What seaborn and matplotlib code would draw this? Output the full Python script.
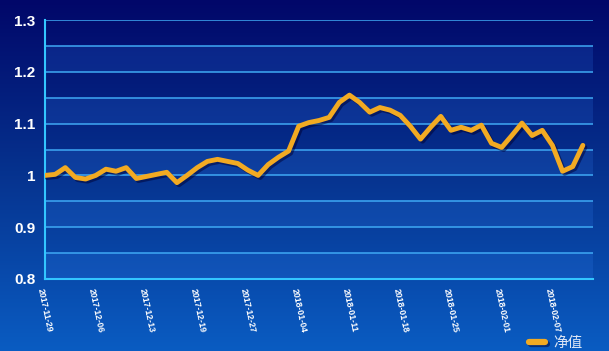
import numpy as np
import pandas as pd
import matplotlib
matplotlib.use("Agg")
import matplotlib.pyplot as plt
import matplotlib.patheffects as pe
import seaborn as sns
from matplotlib.colors import LinearSegmentedColormap

# net value series, one point per trading day
nav = [1.000, 1.002, 1.015, 0.996, 0.993, 1.000, 1.012, 1.008, 1.015, 0.994,
       0.998, 1.002, 1.006, 0.986, 1.000, 1.015, 1.027, 1.031, 1.027, 1.023,
       1.010, 1.000, 1.021, 1.035, 1.047, 1.095, 1.102, 1.106, 1.112, 1.141,
       1.155, 1.141, 1.122, 1.131, 1.126, 1.116, 1.095, 1.070, 1.093, 1.114,
       1.087, 1.093, 1.087, 1.097, 1.062, 1.054, 1.077, 1.101, 1.077, 1.087,
       1.058, 1.008, 1.017, 1.058]
tick_dates = ["2017-11-29", "2017-12-06", "2017-12-13", "2017-12-19", "2017-12-27",
              "2018-01-04", "2018-01-11", "2018-01-18", "2018-01-25", "2018-02-01",
              "2018-02-07"]
tick_step = 5
y_ticks = [0.8, 0.9, 1.0, 1.1, 1.2, 1.3]
y_labels = ["0.8", "0.9", "1", "1.1", "1.2", "1.3"]
series_name = "净值"

df = pd.DataFrame({"day": range(len(nav)), series_name: nav})

sns.set_style("white")
plt.rcParams["font.family"] = ["Liberation Sans", "Noto Sans CJK SC", "DejaVu Sans"]

fig = plt.figure(figsize=(6.09, 3.51), dpi=100)

# background gradient over the whole figure
bg = fig.add_axes([0, 0, 1, 1], zorder=0)
grad = LinearSegmentedColormap.from_list("bg", ["#010769", "#06338f", "#0a5cc2"])
bg.imshow(np.linspace(0, 1, 256).reshape(-1, 1), aspect="auto", cmap=grad,
          extent=[0, 1, 0, 1], origin="upper")
bg.set_axis_off()

ax = fig.add_axes([45 / 609, 1 - 279 / 351, 548 / 609, 259 / 351], zorder=1)
ax.patch.set_alpha(0)

# alternating bands between the 0.05 grid lines
for lo in np.arange(0.8, 1.3, 0.1):
    ax.axhspan(lo, lo + 0.05, color="#3a8cff", alpha=0.16, lw=0, zorder=0)
for g in np.arange(0.8, 1.31, 0.05):
    ax.axhline(g, color="#3fa9f5", lw=1.1, zorder=1)

sns.lineplot(data=df, x="day", y=series_name, ax=ax, color="#f2aa22", lw=3.5,
             label=series_name, zorder=3,
             path_effects=[pe.SimpleLineShadow(offset=(1.5, -1.5), shadow_color="#000033", alpha=0.5),
                           pe.Normal()])

ax.set_xlim(0, 54)
ax.set_ylim(0.8, 1.3)
ax.set_yticks(y_ticks)
ax.set_yticklabels(y_labels, fontsize=11, fontweight="bold", color="white")
ax.set_xticks(range(0, tick_step * len(tick_dates), tick_step))
ax.set_xticklabels(tick_dates, rotation=-78, ha="left", va="top", rotation_mode="anchor",
                   fontsize=6.3, fontweight="bold", color="white")
ax.tick_params(axis="both", colors="#33c6ff", length=4, width=1.5)
ax.tick_params(axis="y", labelcolor="white", pad=3)
ax.tick_params(axis="x", labelcolor="white", pad=2)
ax.set_xlabel("")
ax.set_ylabel("")
for s in ["top", "right"]:
    ax.spines[s].set_visible(False)
for s in ["left", "bottom"]:
    ax.spines[s].set_color("#33c6ff")
    ax.spines[s].set_linewidth(1.5)

leg = ax.legend(loc="lower right", bbox_to_anchor=(1.005, -0.325), frameon=False,
                handlelength=1.1, handletextpad=0.6, fontsize=10.5)
for t in leg.get_texts():
    t.set_color("#dde6f5")
for h in leg.get_lines():
    h.set_linewidth(4.5)
    h.set_solid_capstyle("round")

fig.savefig("out.png", dpi=100)
